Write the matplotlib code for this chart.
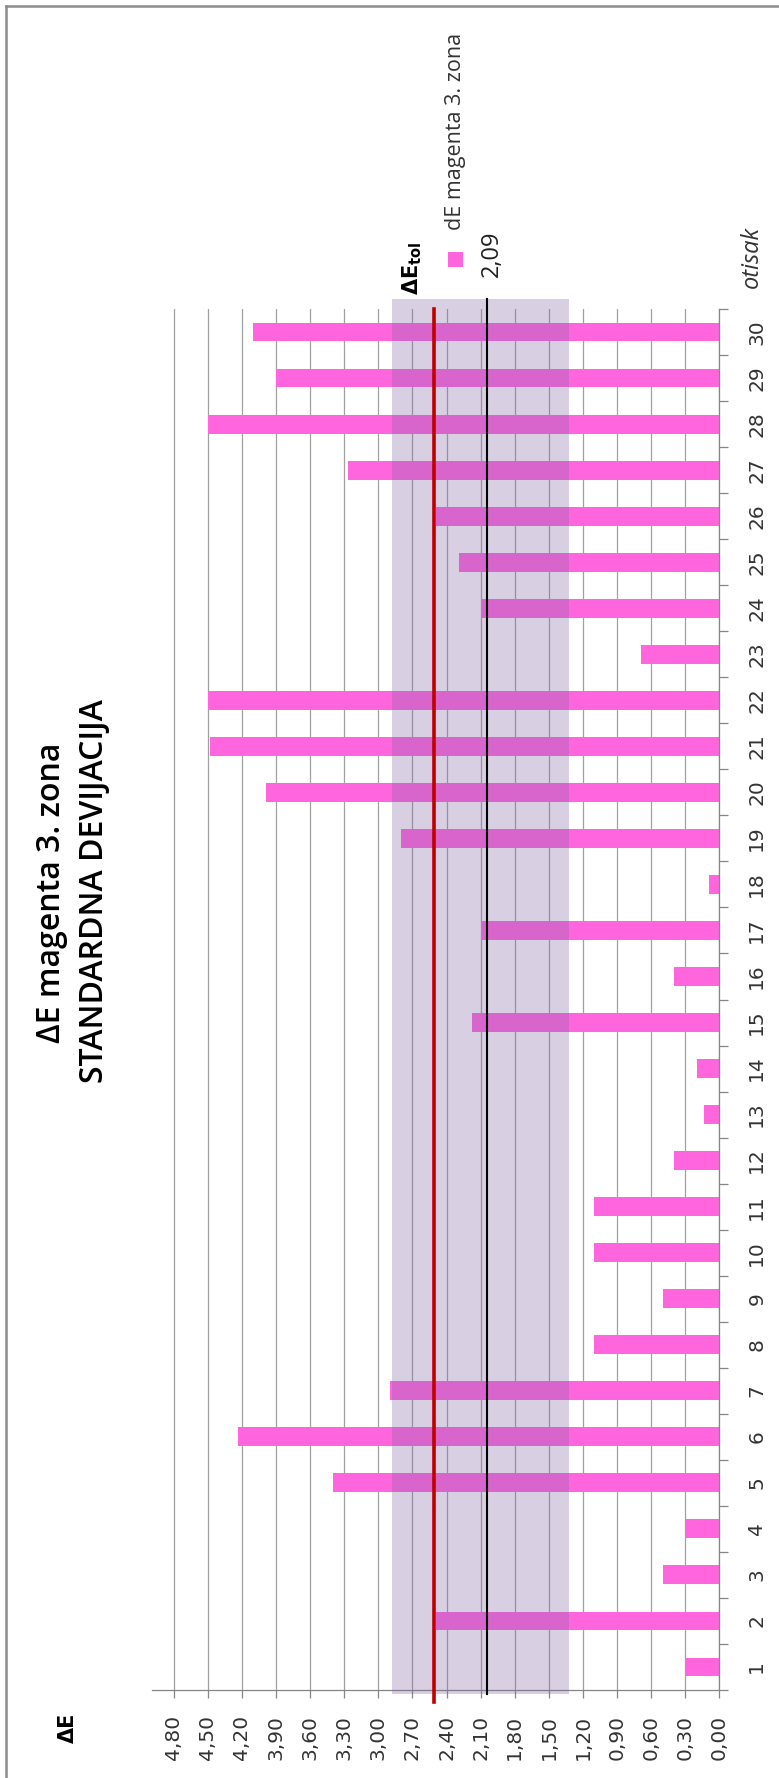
import numpy as np
import matplotlib
matplotlib.use("Agg")
import matplotlib.pyplot as plt
from matplotlib.lines import Line2D
from matplotlib.patches import Rectangle

# data (rotated Excel chart, dE per print)
prints = list(range(1, 31))
de_values = [0.30, 2.49, 0.50, 0.30, 3.40, 4.23, 2.90, 1.10, 0.50, 1.10,
             1.10, 0.40, 0.14, 0.20, 2.18, 0.40, 2.10, 0.09, 2.80, 3.99,
             4.48, 4.50, 0.69, 2.10, 2.29, 2.49, 3.27, 4.50, 3.90, 4.10]
value_ticks = [0.0, 0.3, 0.6, 0.9, 1.2, 1.5, 1.8, 2.1, 2.4, 2.7, 3.0,
               3.3, 3.6, 3.9, 4.2, 4.5, 4.8]
value_labels = [f"{v:.2f}".replace(".", ",") for v in value_ticks]
tol_low, tol_high = 1.32, 2.88      # shaded dE_tol band
mean_line = 2.04                    # black line (legend 2,09)
red_line = 2.51

W, H = 779, 1778
fig = plt.figure(figsize=(W / 100, H / 100), dpi=100)

def fx(x):
    return x / W

def fy(y):
    return 1 - y / H

ax = fig.add_axes([fx(152), fy(1690), fx(719.5) - fx(152), fy(309) - fy(1690)])

bar_color = "#FF66DD"
grid_color = "#A0A0A0"

ax.barh(prints, de_values, height=0.41, color=bar_color, zorder=2)

# tolerance band and reference lines (extend a little past the plot area)
ax.add_patch(Rectangle((tol_low, 0.41), tol_high - tol_low, 30.72 - 0.41,
                       facecolor="#8064A2", alpha=0.3, edgecolor="none",
                       zorder=3, clip_on=False))
ax.plot([mean_line, mean_line], [0.41, 30.72], color="black", lw=1.5,
        zorder=4, clip_on=False)
ax.plot([red_line, red_line], [0.24, 30.5], color="#C00000", lw=2.6,
        zorder=5, clip_on=False)

ax.set_xlim(4.99, 0)
ax.set_ylim(0.5, 30.5)

ax.set_xticks(value_ticks)
ax.set_xticklabels(value_labels, rotation=90, fontsize=14.5, family="DejaVu Sans")
ax.xaxis.grid(True, color=grid_color, lw=0.9, zorder=0)
ax.set_axisbelow(True)

ax.yaxis.tick_right()
ax.set_yticks(prints)
ax.set_yticklabels([str(p) for p in prints], rotation=90, fontsize=14.5,
                   va="center", family="DejaVu Sans")
ax.set_yticks(np.arange(0.5, 31, 1), minor=True)
ax.tick_params(axis="y", which="major", length=0, pad=20, colors="#333333")
ax.tick_params(axis="y", which="minor", length=6.5, direction="out",
               color="#868686", width=0.9, right=True, left=False)
ax.tick_params(axis="x", which="major", length=6, direction="out",
               color="#868686", width=0.9, pad=12, colors="#333333")
ax.tick_params(axis="x", colors="#868686", labelcolor="#333333")

for side in ["top", "left"]:
    ax.spines[side].set_visible(False)
for side in ["bottom", "right"]:
    ax.spines[side].set_color("#868686")
    ax.spines[side].set_linewidth(0.9)

# titles and labels (all rotated with the chart)
fig.text(fx(52), fy(893), "ΔE magenta 3. zona", rotation=90, ha="center",
         va="center", fontsize=23, family="Open Sans", fontweight="semibold")
fig.text(fx(95), fy(891), "STANDARDNA DEVIJACIJA", rotation=90, ha="center",
         va="center", fontsize=23, family="Open Sans", fontweight="semibold")
fig.text(fx(68), fy(1728), "ΔE", rotation=90, ha="center", va="center",
         fontsize=15, fontweight="bold", family="DejaVu Sans")

fig.text(fx(455), fy(230), "dE magenta 3. zona", rotation=90, ha="center",
         va="bottom", fontsize=15.5, family="Open Sans", color="#333333")
fig.add_artist(Rectangle((fx(448), fy(267)), fx(15), 15 / H,
                         transform=fig.transFigure, facecolor=bar_color,
                         edgecolor="none"))
fig.text(fx(492), fy(277), "2,09", rotation=90, ha="center", va="bottom",
         fontsize=17, family="Open Sans", color="#222222")
fig.text(fx(412), fy(295), r"$\mathbf{\Delta E}_{\mathbf{tol}}$", rotation=90,
         ha="center", va="bottom", fontsize=15)
fig.text(fx(752), fy(288), "otisak", rotation=90, ha="center", va="bottom",
         fontsize=17, family="Open Sans", style="italic", color="#333333")

# outer frame (left and top only, the picture is cropped)
fig.add_artist(Line2D([fx(6), fx(6)], [0, fy(6)], color="#8C8C8C", lw=1.8,
                      transform=fig.transFigure))
fig.add_artist(Line2D([fx(6), 1], [fy(6), fy(6)], color="#8C8C8C", lw=1.8,
                      transform=fig.transFigure))

fig.savefig("out.png", dpi=100)
